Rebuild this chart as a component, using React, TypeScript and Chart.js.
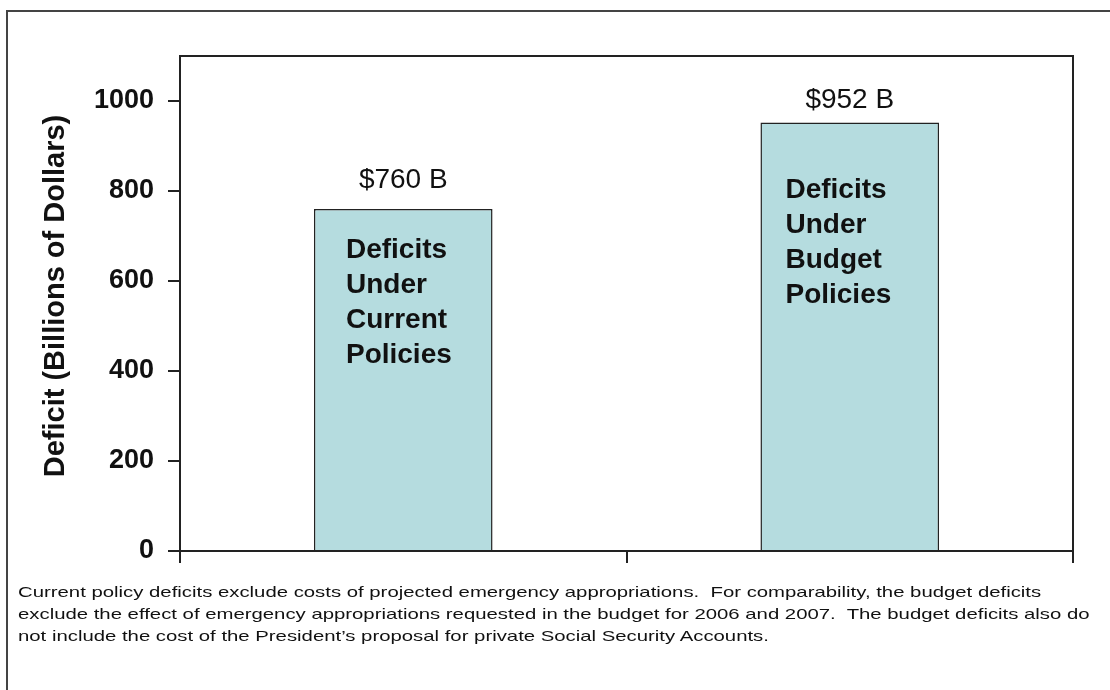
import React, { useEffect, useRef } from "react";
import { Chart, registerables } from "chart.js";
Chart.register(...registerables);

const categories = ["Current Policies", "Budget Policies"];
const deficits = [760, 952];
const valueLabels = ["$760 B", "$952 B"];
const barTextLines = [
  ["Deficits", "Under", "Current", "Policies"],
  ["Deficits", "Under", "Budget", "Policies"],
];
const yTicks = [0, 200, 400, 600, 800, 1000];
const yAxisTitle = "Deficit (Billions of Dollars)";
const footnoteLines = [
  "Current policy deficits exclude costs of projected emergency appropriations.  For comparability, the budget deficits",
  "exclude the effect of emergency appropriations requested in the budget for 2006 and 2007.  The budget deficits also do",
  "not include the cost of the President\u2019s proposal for private Social Security Accounts.",
];

// styling offsets (pixels) for the annotations
const valueGap = [21, 15];
const innerX = [32, 25];
const innerY = [49, 75];
const innerLineStep = 35;

const FONT = '"Liberation Sans", Arial, Helvetica, sans-serif';
const INK = "#111";

const annotPlugin = {
  id: "annot",
  afterDatasetsDraw(chart: any) {
    const ctx = chart.ctx as CanvasRenderingContext2D;
    const { left, top, right, bottom } = chart.chartArea;
    const meta = chart.getDatasetMeta(0);
    ctx.save();
    ctx.strokeStyle = "#222";
    ctx.lineWidth = 2;
    ctx.beginPath();
    ctx.moveTo(left, top);
    ctx.lineTo(right, top);
    ctx.lineTo(right, bottom);
    ctx.stroke();

    ctx.fillStyle = INK;
    meta.data.forEach((bar: any, i: number) => {
      const p = bar.getProps(["x", "y", "width"], true);
      ctx.font = `28px ${FONT}`;
      ctx.textAlign = "center";
      ctx.textBaseline = "alphabetic";
      ctx.fillText(valueLabels[i], p.x, p.y - valueGap[i]);
      ctx.font = `bold 28px ${FONT}`;
      ctx.textAlign = "left";
      barTextLines[i].forEach((line, j) => {
        ctx.fillText(line, p.x - p.width / 2 + innerX[i], p.y + innerY[i] + j * innerLineStep);
      });
    });

    ctx.translate(56, 296);
    ctx.rotate(-Math.PI / 2);
    ctx.font = `bold 29px ${FONT}`;
    ctx.textAlign = "center";
    ctx.textBaseline = "middle";
    ctx.fillText(yAxisTitle, 0, 0);
    ctx.restore();
  },
};

export default function App() {
  const ref = useRef<HTMLCanvasElement>(null);
  useEffect(() => {
    if (!ref.current) return;
    const chart = new Chart(ref.current, {
      type: "bar",
      data: {
        labels: categories,
        datasets: [
          {
            data: deficits,
            backgroundColor: "#B5DCDF",
            borderColor: "#222",
            borderWidth: 1.5,
            barPercentage: 0.4,
            categoryPercentage: 1.0,
          },
        ],
      },
      options: {
        animation: false,
        responsive: false,
        events: [],
        layout: { padding: { left: 0, top: 56, right: 37, bottom: 119 } },
        plugins: { legend: { display: false }, tooltip: { enabled: false } },
        scales: {
          x: {
            type: "category",
            offset: true,
            grid: { offset: true, drawOnChartArea: false, tickLength: 12, color: "#222", lineWidth: 2 },
            border: { color: "#222", width: 2 },
            ticks: { display: false },
            afterFit: (s: any) => {
              s.height = 20;
            },
          },
          y: {
            min: 0,
            max: 1100,
            afterBuildTicks: (s: any) => {
              s.ticks = yTicks.map((v) => ({ value: v }));
            },
            afterFit: (s: any) => {
              s.width = 180;
            },
            grid: { drawOnChartArea: false, tickLength: 12, color: "#222", lineWidth: 2 },
            border: { color: "#222", width: 2 },
            ticks: {
              padding: 14,
              color: INK,
              font: { family: FONT, size: 27, weight: "bold" },
              callback: (v: any) => String(v),
            },
          },
        },
      },
      plugins: [annotPlugin],
    } as any);
    return () => chart.destroy();
  }, []);

  return (
    <div
      style={{
        position: "fixed",
        left: 0,
        top: 0,
        width: 1110,
        height: 690,
        overflow: "hidden",
        background: "#fff",
      }}
    >
      <div
        style={{
          position: "absolute",
          left: 6,
          top: 10,
          width: 1200,
          height: 800,
          borderLeft: "2px solid #444",
          borderTop: "2px solid #444",
        }}
      />
      <canvas ref={ref} width={1110} height={690} style={{ position: "absolute", left: 0, top: 0 }} />
      <div
        style={{
          position: "absolute",
          left: 18,
          top: 581,
          fontFamily: FONT,
          fontSize: 15,
          lineHeight: "22px",
          color: INK,
        }}
      >
        {footnoteLines.map((l, i) => (
          <div
            key={i}
            style={{ whiteSpace: "pre", transform: "scaleX(1.355)", transformOrigin: "left center" }}
          >
            {l}
          </div>
        ))}
      </div>
    </div>
  );
}
